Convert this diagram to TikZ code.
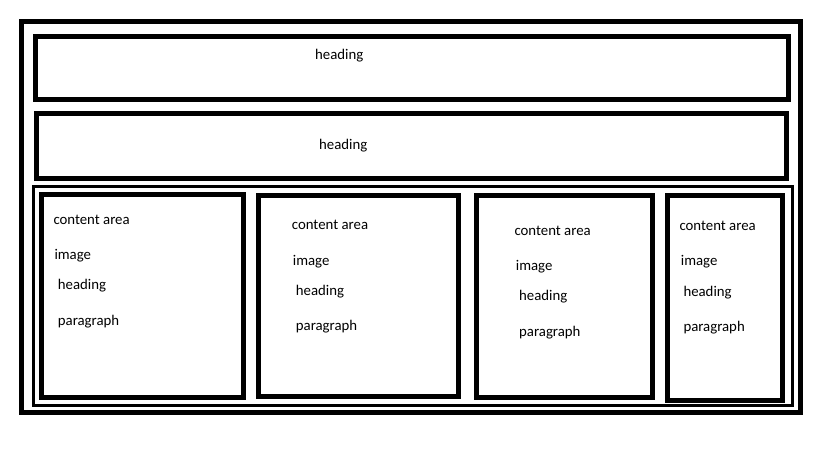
\documentclass[tikz,border=0pt]{standalone}
\usepackage{fontspec}
\setmainfont{Carlito}
\begin{document}
\begin{tikzpicture}[x=1pt,y=-1pt,
  thick box/.style={draw=black,line width=5pt},
  thin box/.style={draw=black,line width=3pt},
  lbl/.style={anchor=base west,inner sep=0pt,font=\fontsize{14.8}{18}\selectfont,text=black}]
\useasboundingbox[fill=white] (0,0) rectangle (819,460);
% outer frame
\draw[thick box] (21.5,21.5) rectangle (800,412.5);
% heading bars
\draw[thick box] (35.5,36.5) rectangle (788,99.5);
\draw[thick box] (36.7,113.3) rectangle (786.3,178.3);
% content container
\draw[thin box] (33.3,186.3) rectangle (792.5,405.7);
% cards
\draw[thick box] (41.5,194.8) rectangle (243.3,397);
\draw[thick box] (258.5,195.2) rectangle (458.3,396.2);
\draw[thick box] (476.8,195.7) rectangle (652.5,397);
\draw[thick box] (667.5,195.8) rectangle (782.5,400.2);
% headings
\node[lbl] (h1) at (315,59.3) {heading};
\node[lbl] (h2) at (319,149.3) {heading};
% card 1
\node[lbl] (c1) at (53.3,224) {content area};
\node[lbl] (i1) at (54.3,259.3) {image};
\node[lbl] (hd1) at (57.7,289) {heading};
\node[lbl] (p1) at (57.7,325) {paragraph};
% card 2
\node[lbl] (c2) at (291.7,229.3) {content area};
\node[lbl] (i2) at (292.7,265) {image};
\node[lbl] (hd2) at (295.7,295) {heading};
\node[lbl] (p2) at (295.7,330.7) {paragraph};
% card 3
\node[lbl] (c3) at (514.3,235) {content area};
\node[lbl] (i3) at (515.7,270) {image};
\node[lbl] (hd3) at (519,300) {heading};
\node[lbl] (p3) at (519,336) {paragraph};
% card 4
\node[lbl] (c4) at (679.3,230.7) {content area};
\node[lbl] (i4) at (680.7,265) {image};
\node[lbl] (hd4) at (683.3,296) {heading};
\node[lbl] (p4) at (683.3,331.7) {paragraph};
\end{tikzpicture}
\end{document}
